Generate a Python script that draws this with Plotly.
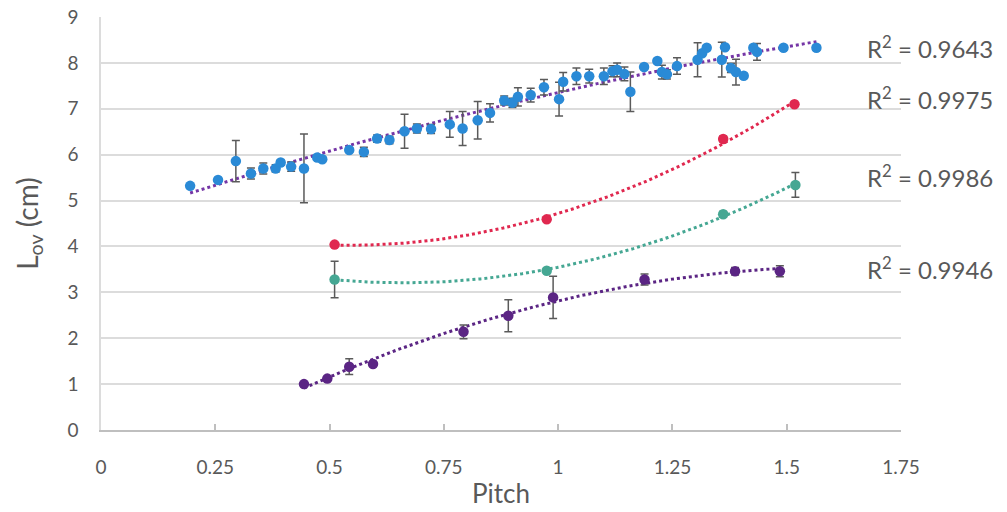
import numpy as np
import plotly.graph_objects as go

# ---------------- data ----------------
blue_x = [0.195, 0.256, 0.295, 0.328, 0.355, 0.382, 0.393, 0.416, 0.444, 0.473, 0.484,
          0.543, 0.575, 0.604, 0.631, 0.664, 0.691, 0.722, 0.763, 0.791, 0.824, 0.851,
          0.882, 0.900, 0.912, 0.940, 0.969, 1.002, 1.011, 1.040, 1.068, 1.100, 1.119,
          1.129, 1.145, 1.158, 1.188, 1.217, 1.227, 1.238, 1.260, 1.305, 1.315, 1.325,
          1.358, 1.365, 1.378, 1.389, 1.406, 1.427, 1.435, 1.493, 1.565]
blue_y = [5.32, 5.45, 5.86, 5.59, 5.70, 5.70, 5.83, 5.74, 5.70, 5.94, 5.90,
          6.10, 6.06, 6.35, 6.32, 6.51, 6.57, 6.56, 6.66, 6.57, 6.75, 6.91,
          7.18, 7.13, 7.26, 7.30, 7.47, 7.21, 7.59, 7.71, 7.71, 7.71, 7.82,
          7.85, 7.76, 7.37, 7.91, 8.04, 7.80, 7.75, 7.93, 8.07, 8.21, 8.33,
          8.07, 8.34, 7.89, 7.80, 7.72, 8.33, 8.24, 8.33, 8.33]
blue_err = [0.0, 0.0, 0.45, 0.12, 0.12, 0.08, 0.05, 0.10, 0.75, 0.05, 0.05,
            0.05, 0.10, 0.08, 0.08, 0.37, 0.10, 0.10, 0.28, 0.37, 0.41, 0.20,
            0.10, 0.10, 0.20, 0.15, 0.17, 0.37, 0.20, 0.18, 0.15, 0.18, 0.12,
            0.15, 0.15, 0.43, 0.05, 0.05, 0.15, 0.10, 0.18, 0.37, 0.05, 0.05,
            0.38, 0.05, 0.10, 0.28, 0.05, 0.05, 0.18, 0.05, 0.05]

red_x = [0.511, 0.975, 1.361, 1.517]
red_y = [4.04, 4.59, 6.34, 7.10]
red_err = [0.03, 0.03, 0.06, 0.03]

teal_x = [0.511, 0.975, 1.361, 1.519]
teal_y = [3.28, 3.47, 4.70, 5.34]
teal_err = [0.40, 0.03, 0.06, 0.27]

purple_x = [0.444, 0.495, 0.543, 0.595, 0.793, 0.891, 0.989, 1.189, 1.387, 1.485]
purple_y = [1.00, 1.12, 1.38, 1.44, 2.14, 2.49, 2.89, 3.28, 3.46, 3.46]
purple_err = [0.03, 0.03, 0.17, 0.05, 0.15, 0.35, 0.46, 0.12, 0.08, 0.12]

r2_labels = ["0.9643", "0.9975", "0.9986", "0.9946"]
r2_ypos = [0.927, 0.804, 0.615, 0.392]

x_ticks = [0, 0.25, 0.5, 0.75, 1, 1.25, 1.5, 1.75]
x_ticktext = ["0", "0.25", "0.5", "0.75", "1", "1.25", "1.5", "1.75"]
y_ticks = list(range(0, 10))

# ---------------- styling ----------------
C_BLUE = "#2a8ad6"
C_RED = "#e0284f"
C_TEAL = "#45a793"
C_PURPLE = "#5b2584"
C_TREND_BLUE = "#7536a6"
GRAY_TXT = "#595959"
ERR_COL = "#5a5a5a"
FONT = "Lato"

fig = go.Figure()

series = [
    (blue_x, blue_y, blue_err, C_BLUE, C_TREND_BLUE),
    (red_x, red_y, red_err, C_RED, C_RED),
    (teal_x, teal_y, teal_err, C_TEAL, C_TEAL),
    (purple_x, purple_y, purple_err, C_PURPLE, C_PURPLE),
]

# trendlines (2nd-order polynomial fits, as in the source chart)
for xs, ys, es, mc, tc in series:
    coef = np.polyfit(xs, ys, 2)
    xx = np.linspace(min(xs), max(xs), 200)
    fig.add_trace(go.Scatter(x=xx, y=np.polyval(coef, xx), mode="lines",
                             line=dict(color=tc, width=3, dash="dot"),
                             hoverinfo="skip", showlegend=False))

for xs, ys, es, mc, tc in series:
    fig.add_trace(go.Scatter(
        x=xs, y=ys, mode="markers",
        marker=dict(color=mc, size=10.5),
        error_y=dict(type="data", array=es, visible=True, color=ERR_COL,
                     thickness=1.5, width=4),
        showlegend=False))

for lab, yp in zip(r2_labels, r2_ypos):
    fig.add_annotation(x=0.955, y=yp, xref="paper", yref="paper",
                       xanchor="left", yanchor="middle", showarrow=False,
                       text="R<sup>2</sup> = " + lab,
                       font=dict(family=FONT, size=24, color=GRAY_TXT))

fig.update_layout(
    width=1007, height=512,
    margin=dict(l=101, r=106, t=17, b=82),
    paper_bgcolor="white", plot_bgcolor="white",
    font=dict(family=FONT, color=GRAY_TXT),
    showlegend=False,
)
fig.update_xaxes(
    range=[0, 1.75], tickvals=x_ticks, ticktext=x_ticktext,
    tickfont=dict(size=19, color=GRAY_TXT, family=FONT),
    showgrid=False, zeroline=False, automargin=False,
    showline=True, linecolor="#bfbfbf", linewidth=1.5,
    ticks="inside", ticklen=6, tickcolor="#bfbfbf", tickwidth=1.5,
    ticklabelstandoff=19, ticklabeloverflow="allow",
    title=dict(text="Pitch", font=dict(size=26, color=GRAY_TXT, family=FONT), standoff=8),
)
fig.update_yaxes(
    range=[0, 9], tickvals=y_ticks,
    tickfont=dict(size=19, color=GRAY_TXT, family=FONT),
    showgrid=True, gridcolor="#dcdcdc", gridwidth=1.5, zeroline=False, automargin=False,
    showline=True, linecolor="#dcdcdc", linewidth=1.5,
    ticks="", ticklabelstandoff=17, ticklabeloverflow="allow",
    title=dict(text="L<sub>ov</sub> (cm)", font=dict(size=28, color=GRAY_TXT, family=FONT), standoff=21),
)

# remove the default page margin so the figure sits at the window's top-left corner
fig.write_html("out.html",
               config={"displayModeBar": False},
               post_script="document.body.style.margin='0';document.body.style.overflow='hidden';")
